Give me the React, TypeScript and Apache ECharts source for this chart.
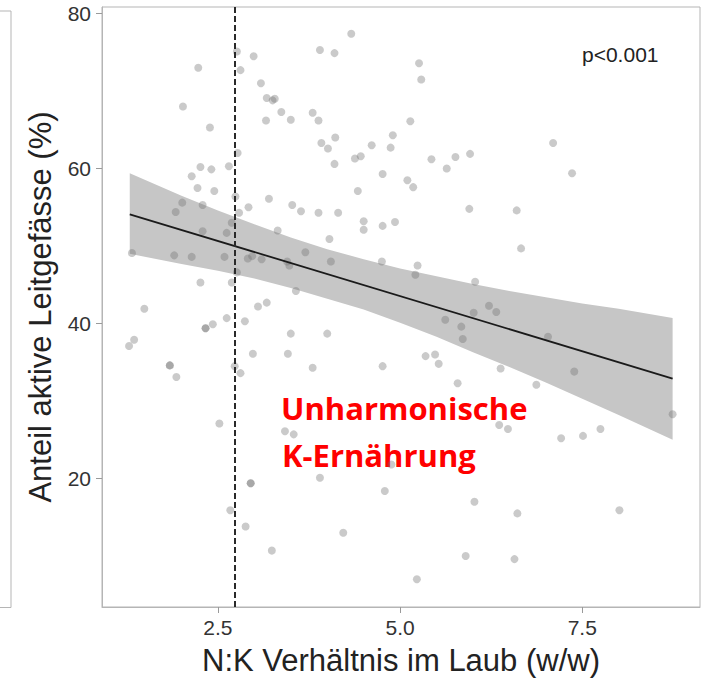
import React, { useEffect, useRef } from "react";
import * as echarts from "echarts";

// N:K ratio (x) and share of active vessels in % (y)
const pointsX = [
  2.23, 2.02, 2.39, 2.26, 2.41, 2.65, 2.14, 2.22, 2.45, 2.01, 1.92, 2.29, 2.29, 2.62, 2.69, 2.76, 2.81, 2.77, 2.74, 2.79,
  1.32, 1.90, 2.14, 2.59, 2.26, 2.69, 1.49, 2.62, 2.43, 2.33, 2.33, 1.35, 1.28, 1.84, 1.84, 1.93, 2.52, 2.73, 2.81, 2.67,
  2.99, 3.09, 3.17, 3.25, 3.28, 3.37, 3.16, 3.50, 3.80, 3.88, 3.90, 4.10, 4.33, 3.92, 4.11, 4.01, 4.10, 4.38, 4.46, 4.61,
  4.87, 4.90, 5.14, 5.26, 5.29, 4.76, 4.42, 5.10, 5.18, 5.43, 5.64, 5.76, 5.96, 5.95, 2.92, 3.20, 3.52, 3.64, 3.88, 4.15,
  4.50, 4.50, 4.76, 4.93, 3.32, 4.03, 2.91, 2.97, 3.10, 3.45, 3.48, 3.70, 4.05, 4.75, 5.24, 5.21, 2.76, 3.57, 3.05, 3.17,
  2.87, 3.50, 4.00, 2.98, 3.46, 3.80, 4.76, 5.35, 5.48, 5.53, 5.62, 5.84, 5.86, 5.79, 3.42, 3.54, 4.88, 6.66, 6.03, 6.22,
  6.32, 6.01, 7.03, 7.39, 6.38, 6.87, 6.36, 6.48, 7.21, 7.51, 7.75, 8.74, 7.10, 7.36, 6.60, 2.95, 2.95, 3.90, 4.79, 2.88,
  4.22, 3.24, 5.23, 5.90, 6.02, 6.61, 8.01, 6.57,
];
const pointsY = [
  73.0, 68.0, 65.3, 60.2, 59.9, 60.3, 59.0, 57.5, 57.1, 55.6, 54.4, 55.3, 51.9, 51.7, 53.0, 75.1, 72.7, 62.0, 56.4, 54.3,
  49.1, 48.8, 48.6, 48.6, 45.3, 45.3, 41.9, 40.7, 39.9, 39.4, 39.4, 37.9, 37.1, 34.6, 34.6, 33.1, 27.1, 34.5, 33.6, 15.9,
  74.5, 71.0, 69.1, 68.8, 69.0, 67.3, 66.2, 66.3, 67.2, 66.2, 75.3, 74.9, 77.4, 63.3, 64.0, 62.6, 60.6, 61.3, 61.6, 63.0,
  62.7, 64.3, 66.1, 73.6, 71.5, 59.3, 57.1, 58.5, 57.6, 61.2, 60.0, 61.5, 61.9, 54.8, 55.0, 56.1, 55.3, 54.5, 54.3, 54.3,
  53.2, 52.1, 52.6, 53.1, 52.0, 50.9, 48.4, 48.7, 48.3, 48.0, 47.5, 49.2, 48.0, 48.0, 47.5, 46.3, 46.6, 44.2, 42.2, 42.7,
  40.3, 38.7, 38.7, 36.1, 36.1, 34.3, 34.5, 35.8, 36.0, 34.8, 40.5, 39.6, 38.0, 32.3, 26.1, 25.7, 21.8, 49.7, 45.4, 42.3,
  41.5, 41.4, 38.3, 33.8, 34.2, 32.1, 26.9, 26.4, 25.2, 25.5, 26.4, 28.3, 63.3, 59.4, 54.6, 19.4, 19.4, 20.1, 18.4, 13.8,
  13.0, 10.7, 7.0, 10.0, 17.0, 15.5, 15.9, 9.6,
];

// fitted regression line (ends) and its confidence band
const fitX = [1.29, 8.74];
const fitY = [54.1, 32.9];
const bandX = [1.29, 2.0, 2.5, 3.0, 3.5, 4.0, 4.5, 5.0, 5.5, 6.0, 6.5, 7.0, 7.5, 8.0, 8.74];
const bandUpper = [59.4, 56.5, 54.6, 52.8, 51.1, 49.6, 48.3, 47.1, 46.1, 45.1, 44.2, 43.4, 42.6, 41.9, 40.7];
const bandLower = [49.0, 47.7, 46.8, 45.8, 44.6, 43.2, 41.8, 40.1, 38.3, 36.3, 34.4, 32.4, 30.3, 28.2, 25.0];

const thresholdX = [2.73];
const xTicks = [2.5, 5.0, 7.5];
const yTicks = [20, 40, 60, 80];

const FONT = "'Liberation Sans', Arial, Helvetica, sans-serif";
const RED_FONT = "'Open Sans', Lato, sans-serif";

export default function App() {
  const ref = useRef<HTMLDivElement>(null);

  useEffect(() => {
    if (!ref.current) return;
    const chart = echarts.init(ref.current, null, { renderer: "svg" });
    const scatterData = pointsX.map((x, i) => [x, pointsY[i]]);
    const lineData = fitX.map((x, i) => [x, fitY[i]]);

    chart.setOption({
      animation: false,
      backgroundColor: "#ffffff",
      grid: {
        left: 102,
        right: 3,
        top: 7,
        bottom: 73,
        show: true,
        borderColor: "#b5b5b5",
        borderWidth: 1,
        backgroundColor: "transparent",
      },
      xAxis: {
        type: "value",
        min: 0.909,
        max: 9.116,
        splitLine: { show: false },
        axisLine: { show: true, lineStyle: { color: "#b5b5b5", width: 1 } },
        axisTick: { show: true, customValues: xTicks, length: 6, lineStyle: { color: "#9a9a9a" } },
        axisLabel: {
          customValues: xTicks,
          formatter: (v: number) => v.toFixed(1),
          fontSize: 21,
          color: "#333333",
          fontFamily: FONT,
          margin: 10,
        },
        name: "N:K Verhältnis im Laub (w/w)",
        nameLocation: "middle",
        nameGap: 38,
        nameTextStyle: { fontSize: 31, color: "#222222", fontFamily: FONT },
      },
      yAxis: {
        type: "value",
        min: 3.42,
        max: 80.85,
        splitLine: { show: false },
        axisLine: { show: true, lineStyle: { color: "#b5b5b5", width: 1 } },
        axisTick: { show: true, customValues: yTicks, length: 6, lineStyle: { color: "#9a9a9a" } },
        axisLabel: {
          customValues: yTicks,
          fontSize: 21,
          color: "#333333",
          fontFamily: FONT,
          margin: 11,
        },
        name: "Anteil aktive Leitgefässe (%)",
        nameLocation: "middle",
        nameGap: 46,
        nameTextStyle: { fontSize: 31, color: "#222222", fontFamily: FONT },
      },
      series: [
        {
          type: "custom",
          coordinateSystem: "cartesian2d",
          silent: true,
          z: 1,
          data: [[bandX[0], bandLower[0]]],
          renderItem: (_params: any, api: any) => {
            const pts: number[][] = [];
            for (let i = 0; i < bandX.length; i++) pts.push(api.coord([bandX[i], bandUpper[i]]));
            for (let i = bandX.length - 1; i >= 0; i--) pts.push(api.coord([bandX[i], bandLower[i]]));
            return {
              type: "polygon",
              shape: { points: pts },
              style: { fill: "#c6c6c6", stroke: "none" },
            };
          },
        },
        {
          type: "scatter",
          z: 2,
          symbol: "circle",
          symbolSize: 8,
          itemStyle: { color: "rgba(110,110,110,0.46)" },
          data: scatterData,
          markLine: {
            silent: true,
            symbol: ["none", "none"],
            label: { show: false },
            lineStyle: { color: "#2a2a2a", type: [6, 3], width: 2 },
            data: thresholdX.map((x) => ({ xAxis: x })),
          },
        },
        {
          type: "line",
          z: 3,
          symbol: "none",
          silent: true,
          lineStyle: { color: "#1a1a1a", width: 1.8 },
          data: lineData,
        },
      ],
      graphic: [
        {
          type: "polyline",
          silent: true,
          shape: { points: [[0, 11], [11, 11], [11, 607.5], [0, 607.5]] },
          style: { stroke: "#b5b5b5", lineWidth: 1, fill: "none" },
        },
        {
          type: "text",
          x: 582,
          y: 54,
          style: {
            text: "p<0.001",
            fontSize: 21,
            fontFamily: FONT,
            fill: "#222222",
            align: "left",
            verticalAlign: "middle",
          },
        },
        {
          type: "text",
          x: 281,
          y: 408,
          style: {
            text: "Unharmonische",
            fontSize: 31,
            fontWeight: "bold",
            fontFamily: RED_FONT,
            fill: "#ff0000",
            align: "left",
            verticalAlign: "middle",
          },
        },
        {
          type: "text",
          x: 282,
          y: 455,
          style: {
            text: "K-Ernährung",
            fontSize: 31,
            fontWeight: "bold",
            fontFamily: RED_FONT,
            fill: "#ff0000",
            align: "left",
            verticalAlign: "middle",
          },
        },
      ],
    });

    return () => chart.dispose();
  }, []);

  return (
    <div
      ref={ref}
      style={{ position: "fixed", left: 0, top: 0, width: 703, height: 681, background: "#fff" }}
    />
  );
}
